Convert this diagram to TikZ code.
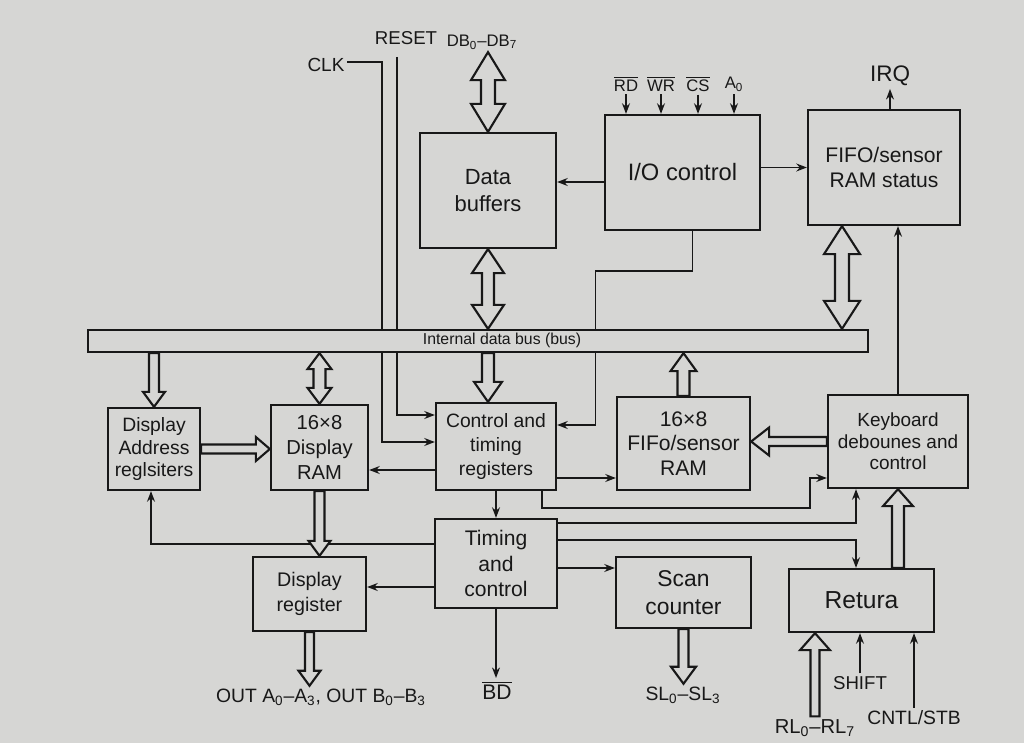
\documentclass[tikz,border=0pt]{standalone}
\usepackage{fontspec}
\setmainfont{Liberation Sans}
\usetikzlibrary{arrows.meta,calc}
\definecolor{paper}{RGB}{214,214,212}
\definecolor{ink}{RGB}{24,24,24}
\pgfdeclarelayer{bg}\pgfdeclarelayer{back}
\pgfsetlayers{bg,back,main}
\newcommand\pxu{0.569055pt}
\newcommand\sbs[1]{\textsubscript{#1}}
\newcommand\ovl[1]{$\overline{\mbox{#1}}$}
% hollow single vertical arrow: shaft half width, head half width, head length, start, tip
\newcommand\HV[5]{%
  \draw[hollow] let \p1=(#4), \p2=(#5), \n1={ifthenelse(\y2>\y1,1,-1)} in
   ({\x2-#1*\pxu},\y1) -- ({\x2-#1*\pxu},{\y2-\n1*#3*\pxu}) -- ({\x2-#2*\pxu},{\y2-\n1*#3*\pxu})
   -- (\x2,\y2) -- ({\x2+#2*\pxu},{\y2-\n1*#3*\pxu}) -- ({\x2+#1*\pxu},{\y2-\n1*#3*\pxu})
   -- ({\x2+#1*\pxu},\y1) -- cycle;}
% hollow double vertical arrow
\newcommand\HVV[5]{%
  \draw[hollow] let \p1=(#4), \p2=(#5), \n1={ifthenelse(\y2>\y1,1,-1)} in
   (\x2,\y2) -- ({\x2+#2*\pxu},{\y2-\n1*#3*\pxu}) -- ({\x2+#1*\pxu},{\y2-\n1*#3*\pxu})
   -- ({\x2+#1*\pxu},{\y1+\n1*#3*\pxu}) -- ({\x2+#2*\pxu},{\y1+\n1*#3*\pxu}) -- (\x2,\y1)
   -- ({\x2-#2*\pxu},{\y1+\n1*#3*\pxu}) -- ({\x2-#1*\pxu},{\y1+\n1*#3*\pxu})
   -- ({\x2-#1*\pxu},{\y2-\n1*#3*\pxu}) -- ({\x2-#2*\pxu},{\y2-\n1*#3*\pxu}) -- cycle;}
% hollow single horizontal arrow
\newcommand\HH[5]{%
  \draw[hollow] let \p1=(#4), \p2=(#5), \n1={ifthenelse(\x2>\x1,1,-1)} in
   (\x1,{\y1+#1*\pxu}) -- ({\x2-\n1*#3*\pxu},{\y1+#1*\pxu}) -- ({\x2-\n1*#3*\pxu},{\y1+#2*\pxu})
   -- (\x2,\y1) -- ({\x2-\n1*#3*\pxu},{\y1-#2*\pxu}) -- ({\x2-\n1*#3*\pxu},{\y1-#1*\pxu})
   -- (\x1,{\y1-#1*\pxu}) -- cycle;}
\begin{document}
\begin{tikzpicture}[x=0.02cm,y=-0.02cm,
  box/.style={draw=ink,line width=1.3pt,fill=paper,align=center,inner sep=0pt,text=ink},
  wh/.style 2 args={minimum width=#1*\pxu,minimum height=#2*\pxu},
  fs/.style 2 args={font=\fontsize{#1}{#2}\selectfont},
  lbl/.style={text=ink,inner sep=1.5pt},
  conn/.style={draw=ink,line width=0.95pt,-{Stealth[length=6pt,width=4.5pt]}},
  hollow/.style={draw=ink,line width=1.2pt,fill=paper,line join=miter}]
\useasboundingbox (0,0) rectangle (1024,743);
\begin{pgfonlayer}{bg}
  \fill[paper] (0,0) rectangle (1024,743);
\end{pgfonlayer}

% ---------- blocks ----------
\node[box,wh={136}{115},fs={12.5}{15}] (buf)  at (488,190.5) {Data\\buffers};
\node[box,wh={155}{115},fs={13.5}{16}] (io)   at (682.5,172.5) {I/O control};
\node[box,wh={152}{115},fs={12}{14.5}] (fst)  at (884,167.5) {FIFO/sensor\\RAM status};
\node[box,wh={780}{22}] (bus) at (478,341) {};
\node[lbl,fs={9}{11}] (buslbl) at (502,340) {Internal data bus (bus)};
\node[box,wh={92}{82},fs={11}{13}]   (dar)  at (154,449) {Display\\Address\\reglsiters};
\node[box,wh={97}{85},fs={11.5}{14}] (dram) at (319.5,447.5) {16×8\\Display\\RAM};
\node[box,wh={120}{87},fs={11}{13.4}] (ctr) at (496,446.5) {Control and\\timing\\registers};
\node[box,wh={133}{93},fs={12}{14}]  (fram) at (683.5,443.5) {16×8\\FIFo/sensor\\RAM};
\node[box,wh={140}{93},fs={10.8}{12.2}] (kbd) at (898,441.5) {Keyboard\\debounes and\\control};
\node[box,wh={122}{89},fs={12}{14.5}] (tc)  at (496,563.5) {Timing\\and\\control};
\node[box,wh={113}{74},fs={11.2}{14}] (dreg) at (309.5,594) {Display\\register};
\node[box,wh={135}{71},fs={13}{16}]  (scan) at (683.5,592.5) {Scan\\counter};
\node[box,wh={145}{63},fs={14}{16}]  (ret)  at (861.5,600.5) {Retura};

% ---------- labels ----------
\node[lbl,fs={10.8}{13}] (clk)   at (326,65) {CLK};
\node[lbl,fs={10.6}{13}] (reset) at (406,38) {RESET};
\node[lbl,fs={9.5}{11}]  (db)    at (482,42) {DB\sbs{0}--DB\sbs{7}};
\node[lbl,fs={9.5}{11}]  (rd)    at (626,84) {\ovl{RD}};
\node[lbl,fs={9.5}{11}]  (wr)    at (661,84) {\ovl{WR}};
\node[lbl,fs={9.5}{11}]  (cs)    at (698,84) {\ovl{CS}};
\node[lbl,fs={9.5}{11}]  (a0)    at (734,84) {A\sbs{0}};
\node[lbl,fs={12.8}{15}] (irq)   at (890,76) {IRQ};
\node[lbl,fs={11}{13}]   (out)   at (321,697) {OUT A\sbs{0}--A\sbs{3}, OUT B\sbs{0}--B\sbs{3}};
\node[lbl,fs={12}{14}]   (bd)    at (497,690) {\ovl{BD}};
\node[lbl,fs={11}{13}]   (sl)    at (683,695) {SL\sbs{0}--SL\sbs{3}};
\node[lbl,fs={11.5}{13}] (rl)    at (815,728) {RL\sbs{0}--RL\sbs{7}};
\node[lbl,fs={10.6}{13}] (shf)   at (860,683) {SHIFT};
\node[lbl,fs={11}{13}]   (cntl)  at (914,718) {CNTL/STB};

% ---------- coordinates ----------
\coordinate (clkc)   at (382,62);
\coordinate (rstc)   at (397,57);
\coordinate (ctrclk) at ([shift={(0,-4.5)}]ctr.west);
\coordinate (ctrrst) at ([shift={(0,-31.5)}]ctr.west);
\coordinate (ioc)    at ([shift={(10,0)}]io.south);
\coordinate (ctrio)  at ([shift={(0,-21.5)}]ctr.east);
\coordinate (iob)    at ([shift={(0,9.5)}]io.west);
\coordinate (tcd)    at ([shift={(0,-19.5)}]tc.west);
\coordinate (dard)   at ([shift={(-3,0)}]dar.south);
\coordinate (cd)     at ([shift={(0,23.5)}]ctr.west);
\coordinate (cf)     at ([shift={(0,31.5)}]ctr.east);
\coordinate (ck)     at ([shift={(46,0)}]ctr.south);
\coordinate (kc)     at ([shift={(0,36.5)}]kbd.west);
\coordinate (tk)     at ([shift={(0,-40.5)}]tc.east);
\coordinate (kt)     at ([shift={(-42,0)}]kbd.south);
\coordinate (tr)     at ([shift={(0,-23.5)}]tc.east);
\coordinate (rt)     at ([shift={(-5.5,0)}]ret.north);
\coordinate (ts)     at ([shift={(0,4.5)}]tc.east);
\coordinate (tdr)    at ([shift={(0,23.5)}]tc.west);
\coordinate (fb)     at ([shift={(-42,0)}]fst.south);

% ---------- lines passing behind the bus / hollow arrows ----------
\begin{pgfonlayer}{back}
  \draw[conn] (clk.east |- clkc) -- (clkc) |- (ctrclk);
  \draw[conn] (rstc) |- (ctrrst);
  \draw[conn] (ioc) -- ++(0,40) -- ++(-97,0) |- (ctrio);
  \draw[conn] (tcd) -| (dard);
\end{pgfonlayer}

% ---------- thin connectors ----------
\draw[conn] (iob) -- (iob -| buf.east);
\draw[conn] (fst.west -| io.east) -- (fst.west);
\draw[conn] (fst.north -| irq) -- (irq.south);
\foreach \s in {rd,wr,cs,a0} \draw[conn] (\s.south) -- (\s.south |- io.north);
\draw[conn] (kbd.north) -- (kbd.north |- fst.south);
\draw[conn] (cd) -- (cd -| dram.east);
\draw[conn] (cf) -- (cf -| fram.west);
\draw[conn] (ck) -- ++(0,17) -- ++(268,0) |- (kc);
\draw[conn] (ctr.south) -- (tc.north);
\draw[conn] (tk) -| (kt);
\draw[conn] (tr) -| (rt);
\draw[conn] (ts) -- (ts -| scan.west);
\draw[conn] (tdr) -- (tdr -| dreg.east);
\draw[conn] (tc.south) -- (tc.south |- bd.north);
\draw[conn] (shf.north) -- (shf.north |- ret.south);
\draw[conn] (cntl.north) -- (cntl.north |- ret.south);

% ---------- hollow bus arrows ----------
\HVV{7}{17}{28}{db.south}{buf.north}
\HVV{6}{16}{24}{buf.south}{buf.south |- bus.north}
\HV{6}{14}{20}{bus.south -| buf.south}{ctr.north -| buf.south}
\HV{6}{13}{18}{fram.north}{fram.north |- bus.south}
\HVV{7}{18}{28}{fb}{fb |- bus.north}
\HV{5}{11}{15}{bus.south -| dar.north}{dar.north}
\HVV{6}{12}{16}{bus.south -| dram.north}{dram.north}
\HH{4.5}{12}{14}{dar.east}{dar.east -| dram.west}
\HH{4.5}{14}{18}{kbd.west}{kbd.west -| fram.east}
\HV{5}{11}{15}{dram.south}{dram.south |- dreg.north}
\HV{4.5}{11}{15}{dreg.south}{dreg.south |- out.north}
\HV{5}{12.5}{17}{scan.south}{scan.south |- sl.north}
\HV{6}{15}{17}{ret.north -| kbd.south}{kbd.south}
\HV{4.5}{15}{17}{rl.north}{rl.north |- ret.south}
\end{tikzpicture}
\end{document}
